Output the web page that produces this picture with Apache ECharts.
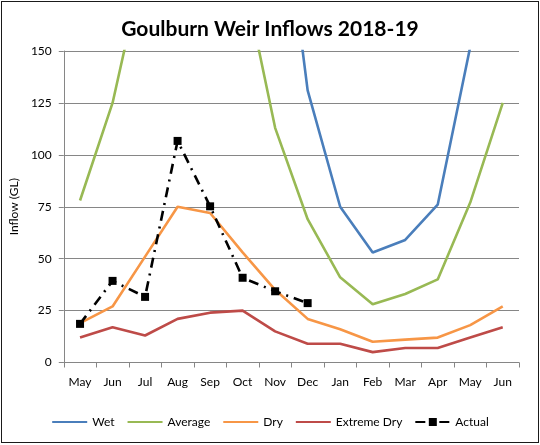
<!DOCTYPE html>
<html lang="en">
<head>
    <meta charset="UTF-8">
    <title>Goulburn Weir Inflows 2018-19</title>
    <style>
        html, body { margin: 0; padding: 0; background: #fff; }
        #frame { position: absolute; left: 1px; top: 1px; width: 536px; height: 440px; border: 1px solid #1a1a1a; }
        #main { position: absolute; left: 0; top: 0; width: 540px; height: 445px; }
    </style>
</head>
<body>
<div id="frame"></div>
<div id="main"></div>
<script src="https://cdn.jsdelivr.net/npm/echarts@6/dist/echarts.min.js"></script>
<script>
    // months along the x axis (May 2018 .. Jun 2019)
    const months = ['May', 'Jun', 'Jul', 'Aug', 'Sep', 'Oct', 'Nov', 'Dec', 'Jan', 'Feb', 'Mar', 'Apr', 'May', 'Jun'];
    const yTicks = [0, 25, 50, 75, 100, 125, 150];

    // scenario inflows (GL) - values above 150 run off the top of the chart
    const wet = [300, 350, 420, 500, 480, 400, 255, 131, 75, 53, 59, 76, 152, 300];
    const average = [78, 125, 195, 260, 250, 188, 113, 69, 41, 28, 33, 40, 77, 125];
    const dry = [19, 27, 51, 75, 72, 53, 35, 21, 16, 10, 11, 12, 18, 27];
    const extremeDry = [12, 17, 13, 21, 24, 25, 15, 9, 9, 5, 7, 7, 12, 17];
    const actual = [18.6, 39.3, 31.6, 106.7, 75.2, 40.8, 34.3, 28.6];

    const font = 'Lato, "Liberation Sans", sans-serif';
    let myChart = echarts.init(document.getElementById('main'));

    function plain(name, data, color) {
        return {
            name: name,
            type: 'line',
            data: data,
            symbol: 'none',
            clip: true,
            lineStyle: {width: 2.6, color: color},
            itemStyle: {color: color}
        };
    }

    // plain series: hide the legend marker so only the line shows
    let legendData = ['Wet', 'Average', 'Dry', 'Extreme Dry'].map(function (n) {
        return {name: n, itemStyle: {opacity: 0}};
    });
    legendData.push({name: 'Actual'});

    let option = {
        animation: false,
        textStyle: {fontFamily: font},
        title: {
            text: 'Goulburn Weir Inflows 2018-19',
            left: 'center',
            top: 14,
            textStyle: {fontFamily: font, fontSize: 21, fontWeight: 'bold', color: '#000'}
        },
        grid: {left: 62.5, right: 21, top: 51, bottom: 82.5},
        legend: {
            bottom: 12,
            left: 'center',
            itemWidth: 35,
            itemHeight: 10,
            itemGap: 12,
            textStyle: {fontFamily: font, fontSize: 12, color: '#000'},
            data: legendData
        },
        xAxis: {
            type: 'category',
            data: months,
            boundaryGap: true,
            axisLine: {lineStyle: {color: '#868686', width: 1}},
            axisTick: {show: true, length: 5, lineStyle: {color: '#868686'}},
            axisLabel: {color: '#000', fontSize: 12, margin: 14, fontFamily: font}
        },
        yAxis: {
            type: 'value',
            min: yTicks[0],
            max: yTicks[yTicks.length - 1],
            interval: 25,
            name: 'Inflow (GL)',
            nameLocation: 'middle',
            nameGap: 41,
            nameTextStyle: {fontFamily: font, fontSize: 12, color: '#000'},
            axisLine: {show: true, lineStyle: {color: '#868686', width: 1}},
            axisTick: {show: true, length: 5, lineStyle: {color: '#868686'}},
            axisLabel: {color: '#000', fontSize: 12, margin: 12, fontFamily: font},
            splitLine: {lineStyle: {color: '#868686', width: 1}}
        },
        series: [
            plain('Wet', wet, '#4a7ebb'),
            plain('Average', average, '#98b954'),
            plain('Dry', dry, '#f79646'),
            plain('Extreme Dry', extremeDry, '#be4b48'),
            {
                name: 'Actual',
                type: 'line',
                data: actual,
                symbol: 'rect',
                symbolSize: 8,
                clip: true,
                lineStyle: {width: 2.6, color: '#000', type: [10, 6, 2, 6]},
                itemStyle: {color: '#000'}
            }
        ]
    };

    myChart.setOption(option);
</script>
</body>
</html>
